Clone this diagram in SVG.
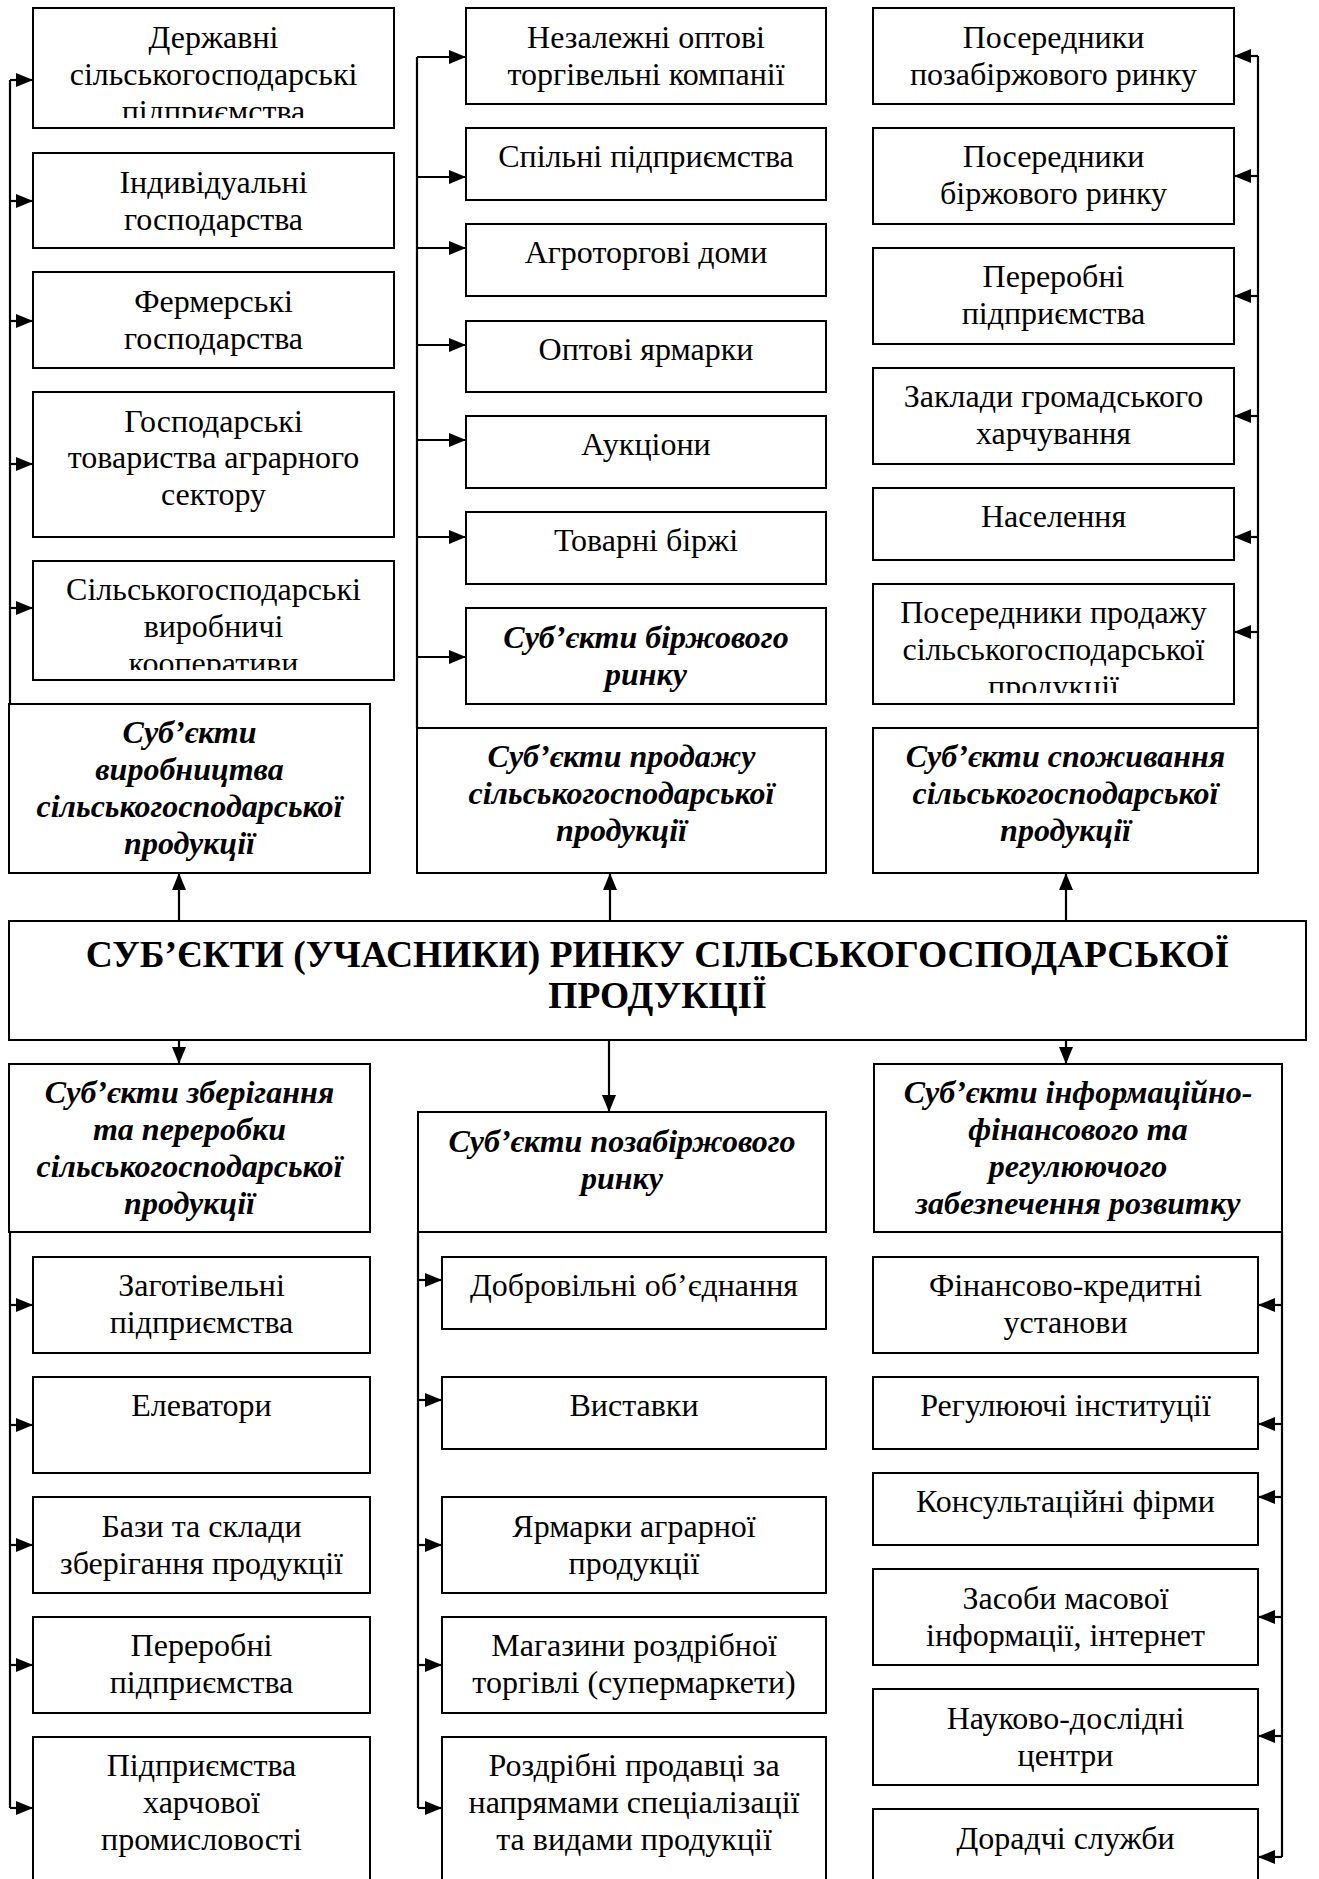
<svg xmlns="http://www.w3.org/2000/svg" width="1319" height="1879" viewBox="0 0 1319 1879">
<style>
.bx{fill:#fff;stroke:#000;stroke-width:2}
.t{font-family:"Liberation Serif","Times New Roman",serif;font-size:32px;text-anchor:middle;fill:#000}
.h{font-weight:bold;font-style:italic}
.ti{font-weight:bold;font-size:37.5px}
.c{stroke:#000;stroke-width:2.2;fill:none}
.a{stroke:#000;stroke-width:2.2;fill:none;marker-end:url(#ah)}
</style>
<defs>
<marker id="ah" viewBox="0 0 17 14" refX="17" refY="7" markerWidth="17" markerHeight="14" markerUnits="userSpaceOnUse" orient="auto">
<path d="M0,0 L17,7 L0,14 z" fill="#000"/>
</marker>
<clipPath id="clipL1"><rect x="33" y="8" width="361" height="110"/></clipPath>
<clipPath id="clipL5"><rect x="33" y="561" width="361" height="109"/></clipPath>
<clipPath id="clipR6"><rect x="873" y="584" width="361" height="109"/></clipPath>
</defs>
<rect width="1319" height="1879" fill="#fff"/>

<g id="connectors">
<path class="c" d="M10,80 V704"/>
<path class="a" d="M10,80 H33"/><path class="a" d="M10,201 H33"/><path class="a" d="M10,321 H33"/><path class="a" d="M10,464 H33"/><path class="a" d="M10,608 H33"/>
<path class="c" d="M417,57 V728"/>
<path class="a" d="M417,57 H466"/><path class="a" d="M417,177 H466"/><path class="a" d="M417,248 H466"/><path class="a" d="M417,345 H466"/><path class="a" d="M417,440 H466"/><path class="a" d="M417,537 H466"/><path class="a" d="M417,657 H466"/>
<path class="c" d="M1258,56 V728"/>
<path class="a" d="M1258,56 H1234"/><path class="a" d="M1258,176 H1234"/><path class="a" d="M1258,296 H1234"/><path class="a" d="M1258,416 H1234"/><path class="a" d="M1258,537 H1234"/><path class="a" d="M1258,632 H1234"/>
<path class="a" d="M179,921 V873"/><path class="a" d="M610,921 V873"/><path class="a" d="M1066,921 V873"/>
<path class="a" d="M179,1040 V1064"/><path class="a" d="M609,1040 V1112"/><path class="a" d="M1066,1040 V1064"/>
<path class="c" d="M10,1232 V1808"/>
<path class="a" d="M10,1305 H33"/><path class="a" d="M10,1425 H33"/><path class="a" d="M10,1545 H33"/><path class="a" d="M10,1665 H33"/><path class="a" d="M10,1808 H33"/>
<path class="c" d="M418,1232 V1808"/>
<path class="a" d="M418,1280 H442"/><path class="a" d="M418,1400 H442"/><path class="a" d="M418,1545 H442"/><path class="a" d="M418,1665 H442"/><path class="a" d="M418,1808 H442"/>
<path class="c" d="M1282,1232 V1857"/>
<path class="a" d="M1282,1305 H1258"/><path class="a" d="M1282,1424 H1258"/><path class="a" d="M1282,1497 H1258"/><path class="a" d="M1282,1617 H1258"/><path class="a" d="M1282,1736 H1258"/><path class="a" d="M1282,1857 H1258"/>
</g>

<g id="L1"><rect class="bx" x="33" y="8" width="361" height="120"/><g clip-path="url(#clipL1)"><text class="t" x="213.5" y="48">Державні</text><text class="t" x="213.5" y="85">сільськогосподарські</text><text class="t" x="213.5" y="122">підприємства</text></g></g>
<g id="L2"><rect class="bx" x="33" y="153" width="361" height="95"/><text class="t" x="213.5" y="193">Індивідуальні</text><text class="t" x="213.5" y="230">господарства</text></g>
<g id="L3"><rect class="bx" x="33" y="272" width="361" height="96"/><text class="t" x="213.5" y="312">Фермерські</text><text class="t" x="213.5" y="349">господарства</text></g>
<g id="L4"><rect class="bx" x="33" y="392" width="361" height="145"/><text class="t" x="213.5" y="432">Господарські</text><text class="t" x="213.5" y="468">товариства аграрного</text><text class="t" x="213.5" y="505">сектору</text></g>
<g id="L5"><rect class="bx" x="33" y="561" width="361" height="119"/><g clip-path="url(#clipL5)"><text class="t" x="213.5" y="600">Сільськогосподарські</text><text class="t" x="213.5" y="637">виробничі</text><text class="t" x="213.5" y="674">кооперативи</text></g></g>
<g id="HL"><rect class="bx" x="9" y="704" width="361" height="169"/><text class="t h" x="189.5" y="743">Суб’єкти</text><text class="t h" x="189.5" y="780">виробництва</text><text class="t h" x="189.5" y="817">сільськогосподарської</text><text class="t h" x="189.5" y="854">продукції</text></g>

<g id="M1"><rect class="bx" x="466" y="8" width="360" height="96"/><text class="t" x="646" y="48">Незалежні оптові</text><text class="t" x="646" y="85">торгівельні компанії</text></g>
<g id="M2"><rect class="bx" x="466" y="128" width="360" height="72"/><text class="t" x="646" y="167">Спільні підприємства</text></g>
<g id="M3"><rect class="bx" x="466" y="224" width="360" height="72"/><text class="t" x="646" y="263">Агроторгові доми</text></g>
<g id="M4"><rect class="bx" x="466" y="321" width="360" height="71"/><text class="t" x="646" y="360">Оптові ярмарки</text></g>
<g id="M5"><rect class="bx" x="466" y="416" width="360" height="72"/><text class="t" x="646" y="455">Аукціони</text></g>
<g id="M6"><rect class="bx" x="466" y="512" width="360" height="72"/><text class="t" x="646" y="551">Товарні біржі</text></g>
<g id="M7"><rect class="bx" x="466" y="608" width="360" height="96"/><text class="t h" x="646" y="648">Суб’єкти біржового</text><text class="t h" x="646" y="685">ринку</text></g>
<g id="HM"><rect class="bx" x="417" y="728" width="409" height="145"/><text class="t h" x="621.5" y="767">Суб’єкти продажу</text><text class="t h" x="621.5" y="804">сільськогосподарської</text><text class="t h" x="621.5" y="841">продукції</text></g>

<g id="R1"><rect class="bx" x="873" y="8" width="361" height="96"/><text class="t" x="1053.5" y="48">Посередники</text><text class="t" x="1053.5" y="85">позабіржового ринку</text></g>
<g id="R2"><rect class="bx" x="873" y="128" width="361" height="96"/><text class="t" x="1053.5" y="167">Посередники</text><text class="t" x="1053.5" y="204">біржового ринку</text></g>
<g id="R3"><rect class="bx" x="873" y="248" width="361" height="96"/><text class="t" x="1053.5" y="287">Переробні</text><text class="t" x="1053.5" y="324">підприємства</text></g>
<g id="R4"><rect class="bx" x="873" y="368" width="361" height="96"/><text class="t" x="1053.5" y="407">Заклади громадського</text><text class="t" x="1053.5" y="444">харчування</text></g>
<g id="R5"><rect class="bx" x="873" y="488" width="361" height="72"/><text class="t" x="1053.5" y="527">Населення</text></g>
<g id="R6"><rect class="bx" x="873" y="584" width="361" height="120"/><g clip-path="url(#clipR6)"><text class="t" x="1053.5" y="623">Посередники продажу</text><text class="t" x="1053.5" y="660">сільськогосподарської</text><text class="t" x="1053.5" y="697">продукції</text></g></g>
<g id="HR"><rect class="bx" x="873" y="728" width="385" height="145"/><text class="t h" x="1065.5" y="767">Суб’єкти споживання</text><text class="t h" x="1065.5" y="804">сільськогосподарської</text><text class="t h" x="1065.5" y="841">продукції</text></g>

<g id="TITLE"><rect class="bx" x="9" y="921" width="1297" height="119"/><text class="t ti" x="657.5" y="967">СУБ’ЄКТИ (УЧАСНИКИ) РИНКУ СІЛЬСЬКОГОСПОДАРСЬКОЇ</text><text class="t ti" x="657.5" y="1008">ПРОДУКЦІЇ</text></g>

<g id="BHL"><rect class="bx" x="9" y="1064" width="361" height="168"/><text class="t h" x="189.5" y="1103">Суб’єкти зберігання</text><text class="t h" x="189.5" y="1140">та переробки</text><text class="t h" x="189.5" y="1177">сільськогосподарської</text><text class="t h" x="189.5" y="1214">продукції</text></g>
<g id="BHM"><rect class="bx" x="418" y="1112" width="408" height="120"/><text class="t h" x="622" y="1152">Суб’єкти позабіржового</text><text class="t h" x="622" y="1189">ринку</text></g>
<g id="BHR"><rect class="bx" x="874" y="1064" width="408" height="168"/><text class="t h" x="1078" y="1103">Суб’єкти інформаційно-</text><text class="t h" x="1078" y="1140">фінансового та</text><text class="t h" x="1078" y="1177">регулюючого</text><text class="t h" x="1078" y="1214">забезпечення розвитку</text></g>

<g id="BL1"><rect class="bx" x="33" y="1257" width="337" height="96"/><text class="t" x="201.5" y="1296">Заготівельні</text><text class="t" x="201.5" y="1333">підприємства</text></g>
<g id="BL2"><rect class="bx" x="33" y="1377" width="337" height="96"/><text class="t" x="201.5" y="1416">Елеватори</text></g>
<g id="BL3"><rect class="bx" x="33" y="1497" width="337" height="96"/><text class="t" x="201.5" y="1537">Бази та склади</text><text class="t" x="201.5" y="1574">зберігання продукції</text></g>
<g id="BL4"><rect class="bx" x="33" y="1617" width="337" height="96"/><text class="t" x="201.5" y="1656">Переробні</text><text class="t" x="201.5" y="1693">підприємства</text></g>
<g id="BL5"><rect class="bx" x="33" y="1737" width="337" height="160"/><text class="t" x="201.5" y="1776">Підприємства</text><text class="t" x="201.5" y="1813">харчової</text><text class="t" x="201.5" y="1850">промисловості</text></g>

<g id="BM1"><rect class="bx" x="442" y="1257" width="384" height="72"/><text class="t" x="634" y="1296">Добровільні об’єднання</text></g>
<g id="BM2"><rect class="bx" x="442" y="1377" width="384" height="72"/><text class="t" x="634" y="1416">Виставки</text></g>
<g id="BM3"><rect class="bx" x="442" y="1497" width="384" height="96"/><text class="t" x="634" y="1537">Ярмарки аграрної</text><text class="t" x="634" y="1574">продукції</text></g>
<g id="BM4"><rect class="bx" x="442" y="1617" width="384" height="96"/><text class="t" x="634" y="1656">Магазини роздрібної</text><text class="t" x="634" y="1693">торгівлі (супермаркети)</text></g>
<g id="BM5"><rect class="bx" x="442" y="1737" width="384" height="160"/><text class="t" x="634" y="1776">Роздрібні продавці за</text><text class="t" x="634" y="1813">напрямами спеціалізації</text><text class="t" x="634" y="1850">та видами продукції</text></g>

<g id="BR1"><rect class="bx" x="873" y="1257" width="385" height="96"/><text class="t" x="1065.5" y="1296">Фінансово-кредитні</text><text class="t" x="1065.5" y="1333">установи</text></g>
<g id="BR2"><rect class="bx" x="873" y="1377" width="385" height="72"/><text class="t" x="1065.5" y="1416">Регулюючі інституції</text></g>
<g id="BR3"><rect class="bx" x="873" y="1473" width="385" height="72"/><text class="t" x="1065.5" y="1512">Консультаційні фірми</text></g>
<g id="BR4"><rect class="bx" x="873" y="1569" width="385" height="96"/><text class="t" x="1065.5" y="1609">Засоби масової</text><text class="t" x="1065.5" y="1646">інформації, інтернет</text></g>
<g id="BR5"><rect class="bx" x="873" y="1689" width="385" height="96"/><text class="t" x="1065.5" y="1729">Науково-дослідні</text><text class="t" x="1065.5" y="1766">центри</text></g>
<g id="BR6"><rect class="bx" x="873" y="1809" width="385" height="90"/><text class="t" x="1065.5" y="1849">Дорадчі служби</text></g>
</svg>
